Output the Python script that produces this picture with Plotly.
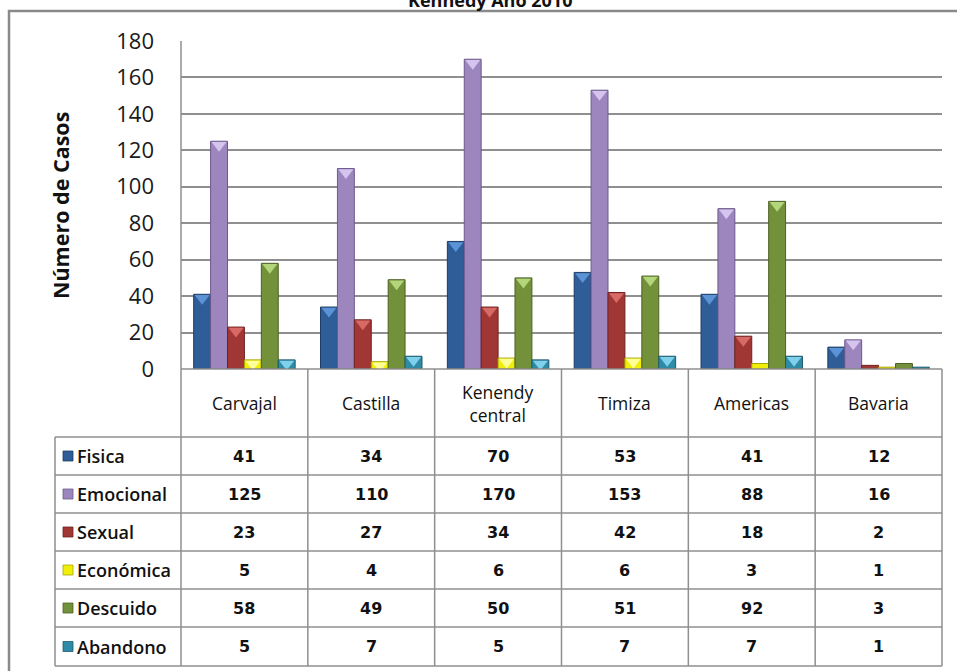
import plotly.graph_objects as go

# Casos por tipo de violencia y UPZ, localidad Kennedy
categorias = ["Carvajal", "Castilla", "Kenendy central", "Timiza", "Americas", "Bavaria"]
etiquetas_cabecera = ["Carvajal", "Castilla", "Kenendy<br>central", "Timiza", "Americas", "Bavaria"]

fisica = [41, 34, 70, 53, 41, 12]
emocional = [125, 110, 170, 153, 88, 16]
sexual = [23, 27, 34, 42, 18, 2]
economica = [5, 4, 6, 6, 3, 1]
descuido = [58, 49, 50, 51, 92, 3]
abandono = [5, 7, 5, 7, 7, 1]

# name, values, fill, edge, bevel highlight
series = [
    ("Fisica", fisica, "#2e5d98", "#1c3c66", "#5c93d6"),
    ("Emocional", emocional, "#9c86bd", "#6d5a8c", "#d4c4ee"),
    ("Sexual", sexual, "#a13735", "#6e2220", "#d86a66"),
    ("Económica", economica, "#f0ef0a", "#a8a600", "#ffff9a"),
    ("Descuido", descuido, "#73913a", "#4c6225", "#b3d67a"),
    ("Abandono", abandono, "#2f8aa6", "#1d5a6d", "#7fd0ea"),
]

W, H = 957, 671


def px(x):
    return x / W


def py(y):
    return (H - y) / H


# plot area and table geometry (pixels)
left, right = 181, 942
top, base = 41, 369
col_edges = [181 + i * (942 - 181) / 6 for i in range(7)]
row_edges = [369, 437, 475, 513, 551, 589, 627, 666]
label_left = 55
y_max = 180
units_per_px = y_max / (base - top)

fig = go.Figure()
for name, vals, color, edge, hi in series:
    fig.add_trace(go.Bar(
        x=categorias, y=vals, name=name,
        marker=dict(color=color, line=dict(color=edge, width=1)),
        showlegend=False,
    ))

# bevel highlight on the top of each bar
for name, vals, color, edge, hi in series:
    tip_y = [v - 4 * units_per_px if v >= 4 else None for v in vals]
    fig.add_trace(go.Scatter(
        x=categorias, y=tip_y, mode="markers", name=name,
        marker=dict(symbol="triangle-down", size=13, color=hi, line=dict(width=0)),
        showlegend=False, hoverinfo="skip",
    ))

grid_col = "#8f8f8f"
shapes = []
# outer frame
shapes.append(dict(type="rect", xref="paper", yref="paper",
                   x0=px(9), x1=px(1000), y0=py(700), y1=py(11),
                   line=dict(color="#8a8a8a", width=2.5), fillcolor="rgba(0,0,0,0)", layer="below"))
# vertical lines of the table
for i, xe in enumerate(col_edges):
    y_top = top if i == 0 else base
    shapes.append(dict(type="line", xref="paper", yref="paper",
                       x0=px(xe), x1=px(xe), y0=py(y_top), y1=py(row_edges[-1]),
                       line=dict(color=grid_col, width=1.5)))
shapes.append(dict(type="line", xref="paper", yref="paper",
                   x0=px(label_left), x1=px(label_left), y0=py(row_edges[1]), y1=py(row_edges[-1]),
                   line=dict(color=grid_col, width=1.5)))
# horizontal lines of the table
for j, ye in enumerate(row_edges):
    x_start = left if j == 0 else label_left
    shapes.append(dict(type="line", xref="paper", yref="paper",
                       x0=px(x_start), x1=px(right), y0=py(ye), y1=py(ye),
                       line=dict(color=grid_col, width=1.5)))

annotations = []
# header row
for i, lab in enumerate(etiquetas_cabecera):
    cx = (col_edges[i] + col_edges[i + 1]) / 2
    annotations.append(dict(xref="paper", yref="paper", x=px(cx), y=py((row_edges[0] + row_edges[1]) / 2),
                            text=lab, showarrow=False, xanchor="center", yanchor="middle",
                            font=dict(family="Open Sans", size=17.5, color="#111111")))
# body rows
for r, (name, vals, color, edge, hi) in enumerate(series):
    yc = (row_edges[r + 1] + row_edges[r + 2]) / 2
    shapes.append(dict(type="rect", xref="paper", yref="paper",
                       x0=px(63), x1=px(73), y0=py(yc + 5), y1=py(yc - 5),
                       fillcolor=color, line=dict(color=edge, width=0.8)))
    annotations.append(dict(xref="paper", yref="paper", x=px(75), y=py(yc),
                            text=name, showarrow=False, xanchor="left", yanchor="middle",
                            font=dict(family="Open Sans", size=18, color="#111111", weight=600)))
    for i, v in enumerate(vals):
        cx = (col_edges[i] + col_edges[i + 1]) / 2
        annotations.append(dict(xref="paper", yref="paper", x=px(cx), y=py(yc),
                                text=str(v), showarrow=False, xanchor="center", yanchor="middle",
                                font=dict(family="DejaVu Sans", size=16, color="#111111", weight=600)))

# axis title
annotations.append(dict(xref="paper", yref="paper", x=px(60), y=py((top + base) / 2),
                        text="<b>Número de Casos</b>", showarrow=False, textangle=-90,
                        xanchor="center", yanchor="middle",
                        font=dict(family="Open Sans", size=21.5, color="#111111")))
# chart title (its upper part runs off the page)
annotations.append(dict(xref="paper", yref="paper", x=px(490), y=py(0),
                        text="<b>Kennedy Año 2010</b>", showarrow=False,
                        xanchor="center", yanchor="middle",
                        font=dict(family="Open Sans", size=18, color="#111111")))

fig.update_layout(
    width=W, height=H,
    margin=dict(l=0, r=0, t=0, b=0, autoexpand=False),
    paper_bgcolor="white", plot_bgcolor="white",
    barmode="group", bargap=0.2, bargroupgap=0,
    scattermode="group", scattergap=0.2,
    xaxis=dict(domain=[px(left), px(right)], showticklabels=False, showgrid=False,
               zeroline=False, showline=False, fixedrange=True, automargin=False),
    yaxis=dict(domain=[py(base), py(top)], range=[0, y_max], dtick=20,
               showgrid=True, gridcolor=grid_col, gridwidth=1.5,
               zeroline=False, showline=False, ticks="", automargin=False,
               ticklabelstandoff=26,
               tickfont=dict(family="Open Sans", size=22, color="#1a1a1a")),
    shapes=shapes,
    annotations=annotations,
)

fig.write_html("out.html")
